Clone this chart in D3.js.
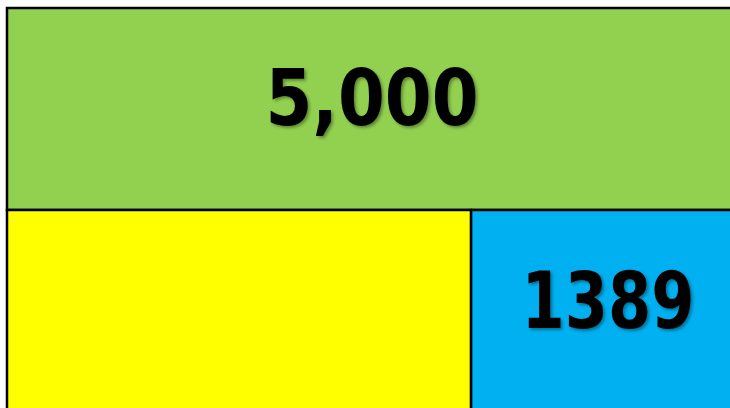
<!DOCTYPE html>
<html><head><meta charset="utf-8">
<script src="https://cdn.jsdelivr.net/npm/d3@7"></script>
<style>html,body{margin:0;padding:0;background:#fff;overflow:hidden}</style>
</head><body>
<script>
// Data
const rows = ["whole", "parts"];
const wholeLabel = ["5,000"];
const partLabels = ["", "1389"];
const partColors = ["#FFFF00", "#00B0F0"];
const wholeColor = "#92D050";
// schematic share of each part in the drawn bar (bar model is not to scale)
const partShares = [0.634, 0.366];

const W = 730, H = 408;
const svg = d3.select("body").append("svg").attr("width", W).attr("height", H);

const defs = svg.append("defs");
const f = defs.append("filter").attr("id", "sh").attr("x", "-10%").attr("y", "-10%").attr("width", "130%").attr("height", "130%");
f.append("feDropShadow").attr("dx", 2).attr("dy", 2).attr("stdDeviation", 1.5).attr("flood-color", "#000").attr("flood-opacity", 0.35);

const x = d3.scaleLinear().domain([0, 1]).range([7, 739]);
const y = d3.scaleBand().domain(rows).range([8, 412]).padding(0);

// whole bar
svg.append("rect")
  .attr("x", x(0)).attr("y", y("whole"))
  .attr("width", x(1) - x(0)).attr("height", y.bandwidth())
  .attr("fill", wholeColor).attr("stroke", "#000").attr("stroke-width", 2.5);

// parts
let acc = 0;
const segs = partShares.map((s, i) => { const o = {x0: acc, x1: acc + s, label: partLabels[i], color: partColors[i]}; acc += s; return o; });
svg.selectAll("rect.part").data(segs).enter().append("rect")
  .attr("class", "part")
  .attr("x", d => x(d.x0)).attr("y", y("parts"))
  .attr("width", d => x(d.x1) - x(d.x0)).attr("height", y.bandwidth())
  .attr("fill", d => d.color).attr("stroke", "#000").attr("stroke-width", 2.5);

const fontFam = "'Comic Sans MS','DejaVu Sans',sans-serif";
svg.append("text")
  .attr("x", (x(0) + x(1)) / 2 - 1).attr("y", 125)
  .attr("text-anchor", "middle")
  .attr("font-family", fontFam).attr("font-weight", "bold").attr("font-size", 79)
  .attr("textLength", 213).attr("lengthAdjust", "spacingAndGlyphs")
  .attr("filter", "url(#sh)")
  .text(wholeLabel[0]);

svg.selectAll("text.part").data(segs.filter(d => d.label)).enter().append("text")
  .attr("class", "part")
  .attr("x", d => (x(d.x0) + x(d.x1)) / 2 + 3).attr("y", 328)
  .attr("text-anchor", "middle")
  .attr("font-family", fontFam).attr("font-weight", "bold").attr("font-size", 79)
  .attr("textLength", 173).attr("lengthAdjust", "spacingAndGlyphs")
  .attr("filter", "url(#sh)")
  .text(d => d.label);
</script>
</body></html>
